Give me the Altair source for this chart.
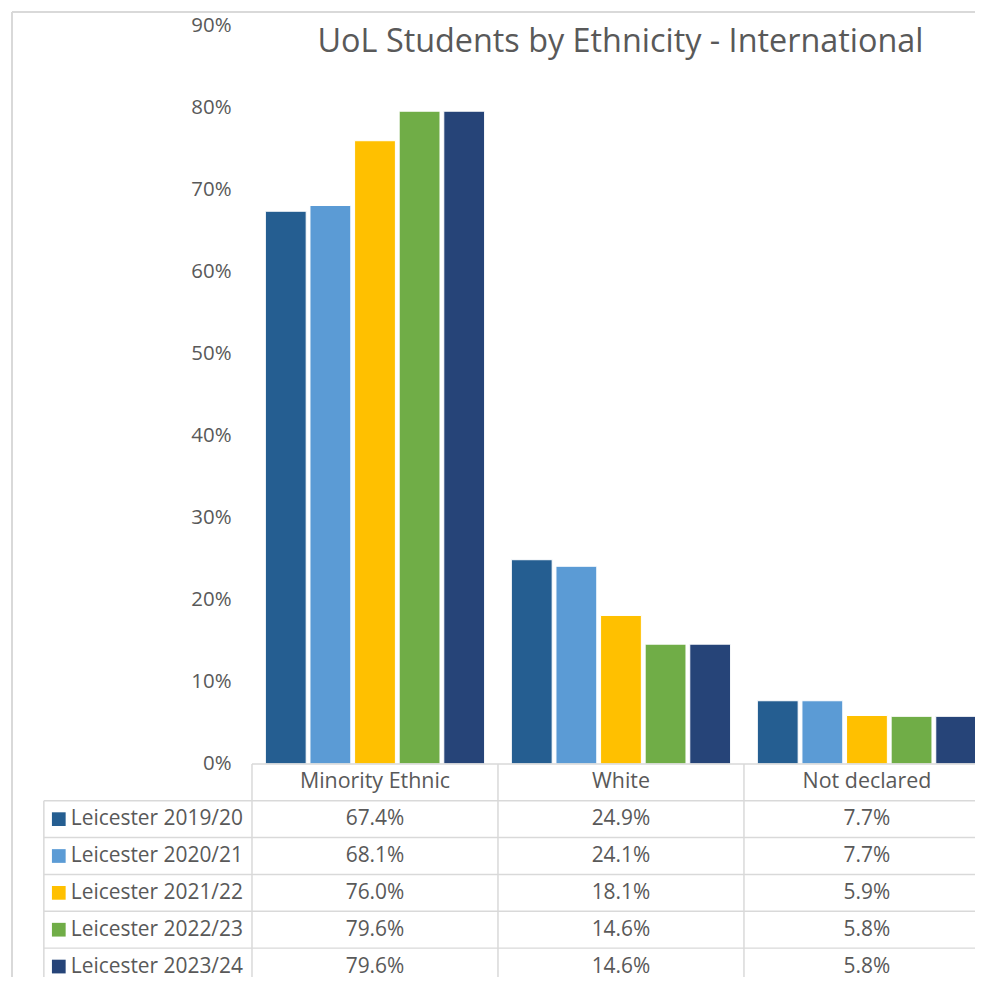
import altair as alt
import pandas as pd

FONT = "Open Sans"
GREY = "#595959"
LINE = "#d9d9d9"

TITLE = "UoL Students by Ethnicity - International"
categories = ["Minority Ethnic", "White", "Not declared"]
series = ["Leicester 2019/20", "Leicester 2020/21", "Leicester 2021/22",
          "Leicester 2022/23", "Leicester 2023/24"]
colors = ["#255E91", "#5B9BD5", "#FFC000", "#70AD47", "#264478"]

v_2019 = [0.674, 0.249, 0.077]
v_2020 = [0.681, 0.241, 0.077]
v_2021 = [0.760, 0.181, 0.059]
v_2022 = [0.796, 0.146, 0.058]
v_2023 = [0.796, 0.146, 0.058]
y_ticks = [0.0, 0.1, 0.2, 0.3, 0.4, 0.5, 0.6, 0.7, 0.8, 0.9]

HEADER = " "

rows = []
for s, vals in zip(series, [v_2019, v_2020, v_2021, v_2022, v_2023]):
    for c, v in zip(categories, vals):
        rows.append({"series": s, "category": c, "value": v,
                     "label": f"{v*100:.1f}%", "row": s})
df = pd.DataFrame(rows)
hdr = pd.DataFrame({"category": categories, "row": [HEADER] * 3})
sdf = pd.DataFrame({"series": series, "row": series})
one = pd.DataFrame({"t": [TITLE]})

W = 726          # visible plot width (the picture is cropped on the right)
X_RANGE = 741    # full width of the three category bands
H_BAR = 741
H_TAB = 214      # visible table height (the picture is cropped at the bottom)
Y_RANGE = 222    # full height of the six table rows
LEFT_COL = 209
OUTER = 241
TOP = 14

color_scale = alt.Scale(domain=series, range=colors)
x_scale = alt.Scale(domain=categories, paddingInner=0, paddingOuter=0, range=[0, X_RANGE])
row_domain = [HEADER] + series
y_scale = alt.Scale(domain=row_domain, paddingInner=0, paddingOuter=0, range=[0, Y_RANGE])

bars = alt.Chart(df).mark_bar(stroke="white", strokeWidth=1, clip=True).encode(
    x=alt.X("category:N", sort=categories, scale=x_scale, axis=None),
    xOffset=alt.XOffset("series:N", sort=series,
                        scale=alt.Scale(domain=series, paddingInner=0.085, paddingOuter=0.3)),
    y=alt.Y("value:Q", scale=alt.Scale(domain=[0, 0.9], nice=False, zero=True),
            axis=alt.Axis(values=y_ticks, format=".0%", grid=False, ticks=False,
                          domain=False, labelPadding=21, labelFontSize=20.5,
                          labelColor=GREY, labelFont=FONT, title=None)),
    color=alt.Color("series:N", sort=series, scale=color_scale, legend=None),
)

title = alt.Chart(one).mark_text(fontSize=32.5, color=GREY, font=FONT,
                                 align="center", baseline="middle").encode(
    text="t:N", x=alt.value(370), y=alt.value(16))

top_border = alt.Chart(one).mark_rule(color=LINE, strokeWidth=2).encode(
    x=alt.value(-OUTER), x2=alt.value(W), y=alt.value(-TOP))
left_border = alt.Chart(one).mark_rule(color=LINE, strokeWidth=2).encode(
    x=alt.value(-OUTER), y=alt.value(-TOP), y2=alt.value(H_BAR))

bar_panel = alt.layer(bars, title, top_border, left_border).properties(
    width=W, height=H_BAR, view=alt.ViewConfig(stroke="transparent"))

# ---- data table under the plot ----
header_text = alt.Chart(hdr).mark_text(fontSize=21.5, color=GREY, font=FONT,
                                       baseline="middle").encode(
    x=alt.X("category:N", scale=x_scale, axis=None),
    y=alt.Y("row:N", scale=y_scale, axis=None), text="category:N")
value_text = alt.Chart(df).mark_text(fontSize=21, color=GREY, font=FONT,
                                     baseline="middle").encode(
    x=alt.X("category:N", scale=x_scale, axis=None),
    y=alt.Y("row:N", scale=y_scale, axis=None), text="label:N")
keys = alt.Chart(sdf).mark_square(size=190, opacity=1, filled=True).encode(
    x=alt.value(-194), y=alt.Y("row:N", scale=y_scale, axis=None),
    color=alt.Color("series:N", sort=series, scale=color_scale, legend=None))
key_labels = alt.Chart(sdf).mark_text(fontSize=21, color=GREY, font=FONT,
                                      align="left", baseline="middle").encode(
    x=alt.value(-182), y=alt.Y("row:N", scale=y_scale, axis=None), text="series:N")
row_lines = alt.Chart(sdf).mark_rule(color=LINE, strokeWidth=1.5).encode(
    y=alt.Y("row:N", scale=y_scale, axis=None, bandPosition=0),
    x=alt.value(-LEFT_COL), x2=alt.value(W))
col_lines = alt.Chart(hdr).mark_rule(color=LINE, strokeWidth=1.5).encode(
    x=alt.X("category:N", scale=x_scale, axis=None, bandPosition=0),
    y=alt.value(0), y2=alt.value(H_TAB))
table_top = alt.Chart(one).mark_rule(color=LINE, strokeWidth=1.5).encode(
    x=alt.value(0), x2=alt.value(W), y=alt.value(0))
tab_left = alt.Chart(one).mark_rule(color=LINE, strokeWidth=1.5).encode(
    x=alt.value(-LEFT_COL), y=alt.value(Y_RANGE / 6), y2=alt.value(H_TAB))
page_left = alt.Chart(one).mark_rule(color=LINE, strokeWidth=2).encode(
    x=alt.value(-OUTER), y=alt.value(0), y2=alt.value(H_TAB))

tab_panel = alt.layer(row_lines, col_lines, table_top, tab_left, page_left,
                      header_text, value_text, keys, key_labels).properties(
    width=W, height=H_TAB, view=alt.ViewConfig(stroke="transparent"))

chart = alt.vconcat(bar_panel, tab_panel, spacing=0, bounds="flush").resolve_scale(
    x="independent", y="independent"
).properties(
    padding={"left": 2, "top": 0, "right": 0, "bottom": 0},
).configure(background="white")

chart.save("out.html", embed_options={"renderer": "svg", "actions": False})
